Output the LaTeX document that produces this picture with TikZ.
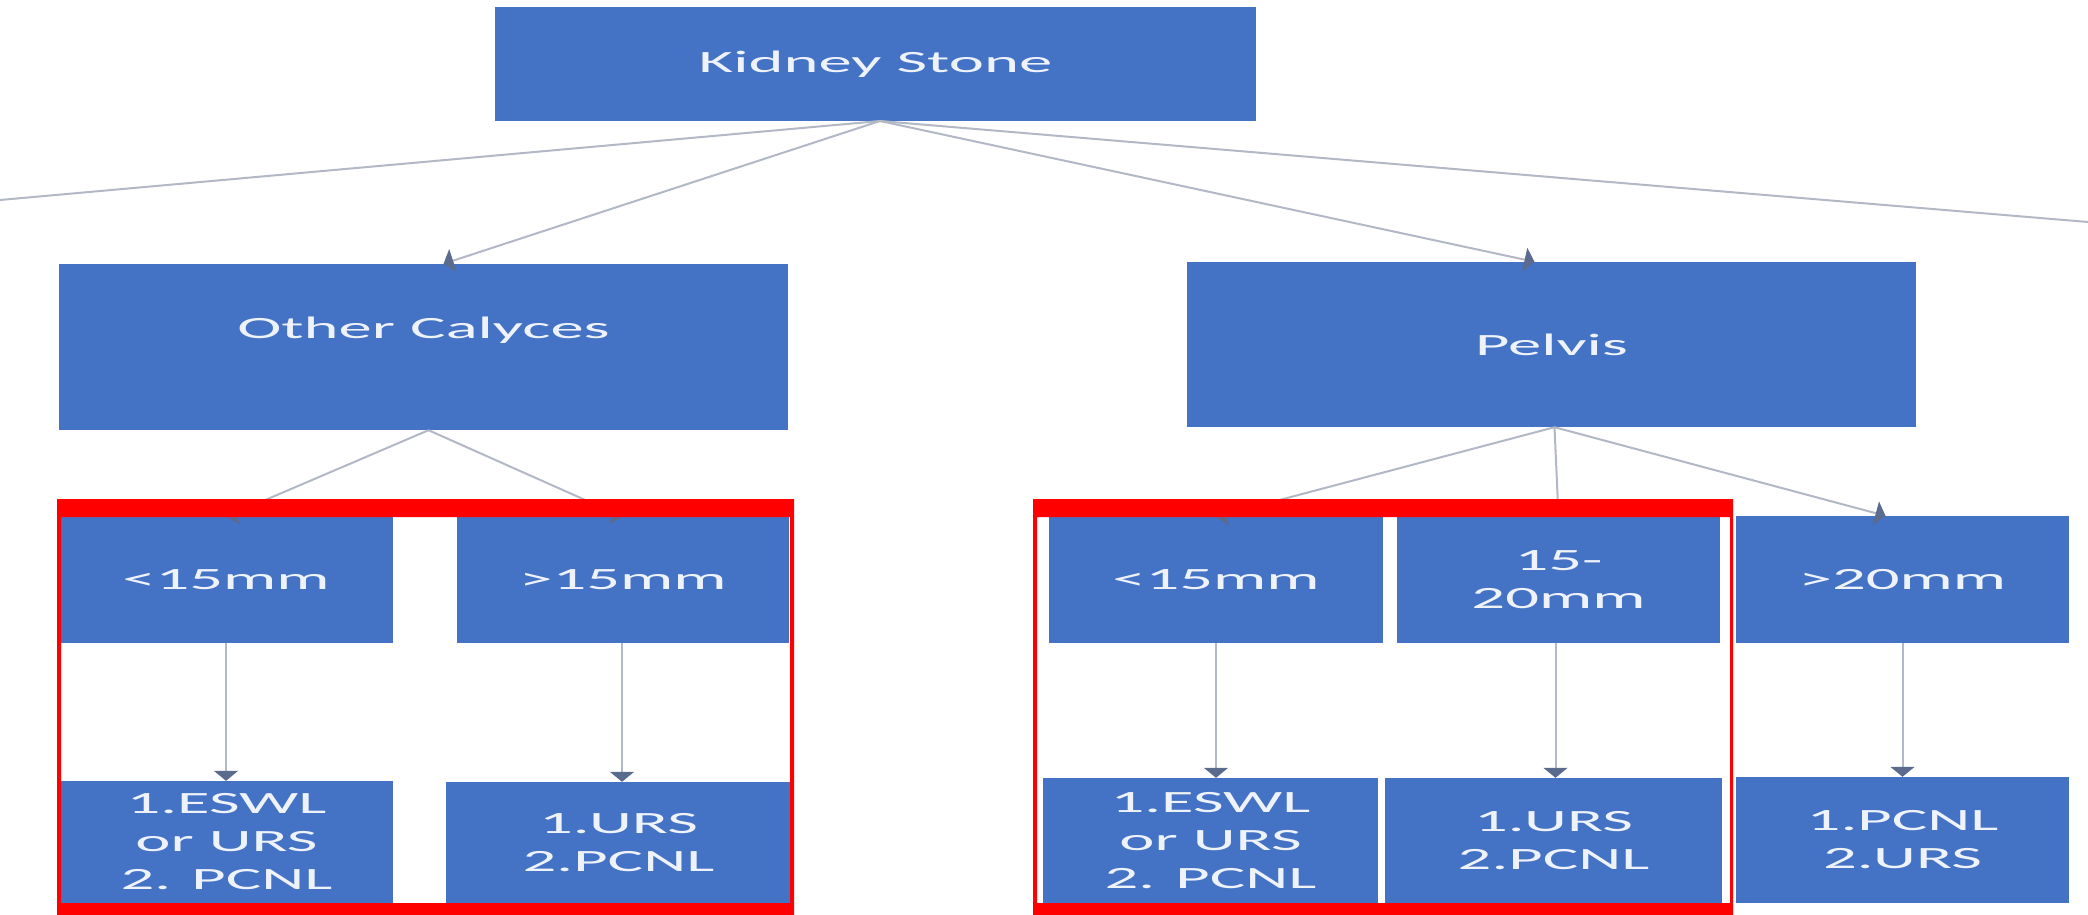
\documentclass[tikz,border=0pt]{standalone}
\usepackage{fontspec}
\setmainfont[FakeStretch=2.15]{Carlito}
\usetikzlibrary{arrows.meta}
\definecolor{boxblue}{HTML}{4472C4}
\definecolor{linegray}{HTML}{B3B8C6}
\definecolor{tipgray}{HTML}{5A6B8E}
\definecolor{txtcol}{HTML}{EEF2FA}
\definecolor{redframe}{HTML}{FF0000}
\begin{document}
\begin{tikzpicture}[x=1pt,y=-1pt,
  box/.style={fill=boxblue, draw=none, inner sep=0pt, align=center, text=txtcol,
    font=\fontsize{31}{38}\selectfont},
  conn/.style={draw=linegray, line width=2pt},
  arr/.style={conn, -{Triangle[width=24pt,length=10pt,color=tipgray]}},
  frame/.style={fill=redframe, even odd rule}
]
\useasboundingbox[fill=white] (0,0) rectangle (2088,915);

% level 0
\node[box, minimum width=761pt, minimum height=114pt] (ks) at (875.5,64) {Kidney Stone};
% level 1
\node[box, minimum width=729pt, minimum height=166pt] (oc) at (423.5,347) {\raisebox{9pt}[0pt][0pt]{Other Calyces}};
\node[box, minimum width=729pt, minimum height=165pt] (pv) at (1551.5,344.5) {Pelvis};
% level 2
\node[box, minimum width=334pt, minimum height=126pt] (ocs) at (226,580) {<15mm};
\node[box, minimum width=332pt, minimum height=126pt] (ocl) at (623,580) {>15mm};
\node[box, minimum width=334pt, minimum height=126pt] (pvs) at (1216,580) {<15mm};
\node[box, minimum width=323pt, minimum height=126pt] (pvm) at (1558.5,580) {15-\\20mm};
\node[box, minimum width=333pt, minimum height=127pt] (pvl) at (1902.5,579.5) {>20mm};
% level 3
\node[box, minimum width=333pt, minimum height=122pt] (ocst) at (226.5,842) {1.ESWL\\or URS\\2. PCNL};
\node[box, minimum width=345pt, minimum height=121pt] (oclt) at (618.5,842.5) {1.URS\\2.PCNL};
\node[box, minimum width=335pt, minimum height=125pt] (pvst) at (1210.5,840.5) {1.ESWL\\or URS\\2. PCNL};
\node[box, minimum width=337pt, minimum height=125pt] (pvmt) at (1553.5,840.5) {1.URS\\2.PCNL};
\node[box, minimum width=333pt, minimum height=126pt] (pvlt) at (1902.5,840) {1.PCNL\\2.URS};

% free ends of the outer lines
\coordinate (leftend) at (0,200);
\coordinate (rightend) at (2088,222);
\coordinate (ksb) at (880,121);

% connectors from the top box
\draw[conn] (ksb) -- (leftend);
\draw[conn] (ksb) -- (rightend);
\draw[arr] (ksb) -- ([xshift=20pt]oc.north);
\draw[arr] (ksb) -- ([xshift=-17pt]pv.north);

% connectors to level 2
\draw[arr] ([xshift=5pt]oc.south) -- (ocs.north);
\draw[arr] ([xshift=5pt]oc.south) -- (ocl.north);
\draw[arr] ([xshift=3pt]pv.south) -- (pvs.north);
\draw[arr] ([xshift=3pt]pv.south) -- (pvm.north);
\draw[arr] ([xshift=3pt]pv.south) -- ([xshift=-17pt]pvl.north);

% connectors to level 3
\draw[arr] (ocs.south) -- (ocs.south |- ocst.north);
\draw[arr] ([xshift=-1pt]ocl.south) -- ([xshift=-1pt]ocl.south |- oclt.north);
\draw[arr] (pvs.south) -- (pvs.south |- pvst.north);
\draw[arr] ([xshift=-3pt]pvm.south) -- ([xshift=-3pt]pvm.south |- pvmt.north);
\draw[arr] (pvl.south) -- (pvl.south |- pvlt.north);

% red highlight frames
\fill[frame] (57,499) rectangle (794,915) (61,517) rectangle (790,903);
\fill[frame] (1033,499) rectangle (1733,915) (1037,517) rectangle (1730,903);
\end{tikzpicture}
\end{document}
